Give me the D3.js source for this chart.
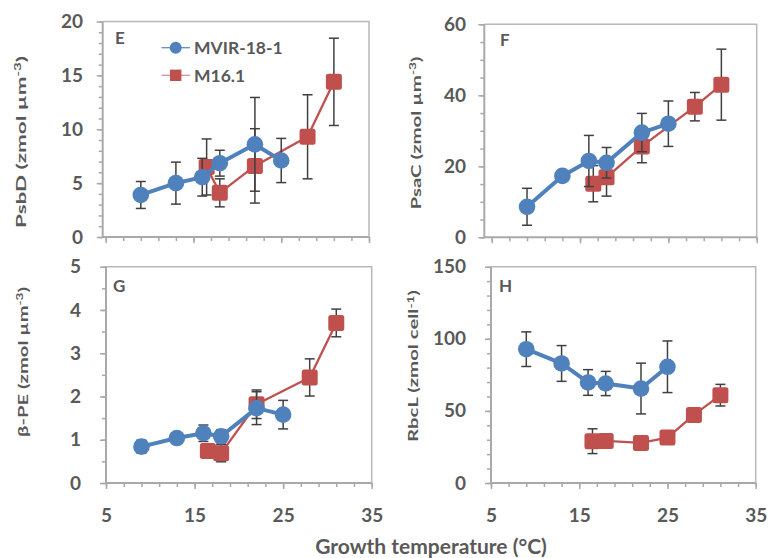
<!DOCTYPE html>
<html>
<head>
<meta charset="utf-8">
<script src="https://cdn.jsdelivr.net/npm/d3@7"></script>
<style>
  body { margin: 0; background: #fff; }
  svg { display: block; }
  text { font-family: Lato, "Open Sans", sans-serif; font-weight: bold; fill: #595959; }
</style>
</head>
<body>
<svg id="chart" width="770" height="558"></svg>
<script>
// growth temperatures (°C)
const tempBlue = [9, 13, 16, 18, 22, 25];
const tempRed = [16.5, 18, 22, 28, 31];
const tempRedH = [16.5, 18, 22, 25, 28, 31];

// E: PsbD (zmol µm-3)
const psbdBlue = [3.9, 5.0, 5.55, 6.85, 8.6, 7.1];
const psbdBlueErr = [1.25, 1.95, 1.75, 1.2, 4.35, 2.05];
const psbdRed = [6.5, 4.1, 6.6, 9.3, 14.4];
const psbdRedErr = [2.6, 1.3, 3.45, 3.9, 4.05];

// F: PsaC (zmol µm-3)
const psacBlue = [8.6, 17.3, 21.5, 21.0, 29.5, 32.0];
const psacBlueErr = [5.2, 1.0, 7.2, 4.3, 5.4, 6.4];
const psacRed = [15.1, 16.9, 25.6, 36.8, 43.0];
const psacRedErr = [5.1, 5.3, 4.6, 4.0, 10.0];

// G: beta-PE (zmol µm-3)
const bpeBlue = [0.84, 1.04, 1.15, 1.08, 1.73, 1.58];
const bpeBlueErr = [0.15, 0.1, 0.19, 0.15, 0.38, 0.33];
const bpeRed = [0.74, 0.69, 1.82, 2.44, 3.70];
const bpeRedErr = [0.1, 0.2, 0.33, 0.43, 0.32];

// H: RbcL (zmol cell-1)
const rbclBlue = [92.8, 82.9, 69.7, 69.0, 65.5, 80.6];
const rbclBlueErr = [12.0, 12.4, 8.9, 8.4, 17.6, 17.9];
const rbclRed = [29.0, 29.2, 27.8, 31.5, 47.2, 60.9];
const rbclRedErr = [8.6, 4.0, 2.0, 2.0, 3.0, 7.5];

const seriesNames = ["MVIR-18-1", "M16.1"];
const xTickLabels = [5, 15, 25, 35];

const blue = "#4f81bd";
const red = "#c0504d";
const axisGray = "#a9a9a9";
const errGray = "#404040";

const zip = (xs, ys, es) => xs.map((x, i) => ({ x: x, y: ys[i], e: es[i] }));

const panels = [
  { id: "E", title: ["PsbD (zmol µm", "-3", ")"], yMax: 20, yMajor: 5, yMinor: 1,
    left: 102.7, x5: 105.7, x35: 369, top: 21.5, bottom: 237, labelRight: 83,
    titleX: 21, titleY: 142, titleLen: 172, letterX: 115, letterY: 43.5, xLabels: false,
    blue: zip(tempBlue, psbdBlue, psbdBlueErr), red: zip(tempRed, psbdRed, psbdRedErr) },
  { id: "F", title: ["PsaC (zmol µm", "-3", ")"], yMax: 60, yMajor: 20, yMinor: 5,
    left: 484.3, x5: 491.7, x35: 756.7, top: 24.3, bottom: 237.3, labelRight: 466,
    titleX: 416, titleY: 133, titleLen: 153, letterX: 500, letterY: 45.5, xLabels: false,
    blue: zip(tempBlue, psacBlue, psacBlueErr), red: zip(tempRed, psacRed, psacRedErr) },
  { id: "G", title: ["β-PE (zmol µm", "-3", ")"], yMax: 5, yMajor: 1, yMinor: 0.5,
    left: 106, x5: 106, x35: 371.7, top: 266.7, bottom: 483, labelRight: 81,
    titleX: 23, titleY: 362, titleLen: 150, letterX: 113, letterY: 291.5, xLabels: true,
    blue: zip(tempBlue, bpeBlue, bpeBlueErr), red: zip(tempRed, bpeRed, bpeRedErr) },
  { id: "H", title: ["RbcL (zmol cell", "-1", ")"], yMax: 150, yMajor: 50, yMinor: 10,
    left: 491, x5: 491, x35: 755.7, top: 266.7, bottom: 483, labelRight: 466,
    titleX: 413.5, titleY: 366, titleLen: 152, letterX: 499, letterY: 291.5, xLabels: true,
    blue: zip(tempBlue, rbclBlue, rbclBlueErr), red: zip(tempRedH, rbclRed, rbclRedErr) }
];

const svg = d3.select("#chart");

function steps(max, step) {
  return d3.range(0, Math.round(max / step) + 1).map(i => i * step);
}

function styleAxis(g) {
  g.select(".domain").remove();
  g.selectAll(".tick line").attr("stroke", axisGray).attr("stroke-width", 1.5);
  g.selectAll(".tick text").attr("fill", "#595959").style("font-size", "19px");
}

panels.forEach(p => {
  const x = d3.scaleLinear().domain([5, 35]).range([p.x5, p.x35]);
  const y = d3.scaleLinear().domain([0, p.yMax]).range([p.bottom, p.top]);
  const g = svg.append("g");

  // plot frame
  g.append("path")
    .attr("d", `M${p.left},${p.top}H${p.x35}V${p.bottom}`)
    .attr("fill", "none").attr("stroke", "#b8b8b8").attr("stroke-width", 1.5);

  // y axis
  g.append("g").attr("transform", `translate(${p.left},0)`)
    .call(d3.axisLeft(y).tickValues(steps(p.yMax, p.yMinor)).tickSize(4).tickFormat(""))
    .call(styleAxis);
  g.append("g").attr("transform", `translate(${p.left},0)`)
    .call(d3.axisLeft(y).tickValues(steps(p.yMax, p.yMajor)).tickSize(6)
      .tickPadding(p.left - p.labelRight - 6).tickFormat(d3.format("d")))
    .call(styleAxis);

  // x axis
  g.append("g").attr("transform", `translate(0,${p.bottom})`)
    .call(d3.axisBottom(x).tickValues(d3.range(5, 36, 2)).tickSize(4).tickFormat(""))
    .call(styleAxis);
  g.append("g").attr("transform", `translate(0,${p.bottom})`)
    .call(d3.axisBottom(x).tickValues(xTickLabels).tickSize(6).tickPadding(20)
      .tickFormat(p.xLabels ? d3.format("d") : ""))
    .call(styleAxis);

  g.append("line")
    .attr("x1", p.left).attr("x2", p.left).attr("y1", p.top).attr("y2", p.bottom + 1)
    .attr("stroke", axisGray).attr("stroke-width", 2);
  g.append("line")
    .attr("x1", p.left).attr("x2", p.x35).attr("y1", p.bottom).attr("y2", p.bottom)
    .attr("stroke", axisGray).attr("stroke-width", 2);

  // y axis title (the source stretches it along its length)
  const t = g.append("text")
    .attr("text-anchor", "middle").attr("dy", "0.35em")
    .style("font-size", "13.5px");
  t.append("tspan").text(p.title[0]);
  t.append("tspan").attr("baseline-shift", "super").style("font-size", "9px").text(p.title[1]);
  t.append("tspan").text(p.title[2]);
  const natural = t.node().getComputedTextLength() || p.titleLen;
  t.attr("transform", `translate(${p.titleX},${p.titleY}) rotate(-90) scale(${p.titleLen / natural},1)`);

  // panel letter
  g.append("text").attr("x", p.letterX).attr("y", p.letterY)
    .style("font-size", "17px").text(p.id);

  const line = d3.line().x(d => x(d.x)).y(d => y(d.y));

  function drawSeries(data, color, width, isCircle) {
    const s = g.append("g");
    s.append("path").datum(data).attr("d", line)
      .attr("fill", "none").attr("stroke", color).attr("stroke-width", width)
      .attr("stroke-linejoin", "round");
    const eb = s.selectAll(".eb").data(data).join("g").attr("class", "eb")
      .attr("stroke", errGray).attr("stroke-width", 1.5);
    eb.append("line").attr("x1", d => x(d.x)).attr("x2", d => x(d.x))
      .attr("y1", d => y(d.y - d.e)).attr("y2", d => y(d.y + d.e));
    eb.append("line").attr("x1", d => x(d.x) - 5).attr("x2", d => x(d.x) + 5)
      .attr("y1", d => y(d.y - d.e)).attr("y2", d => y(d.y - d.e));
    eb.append("line").attr("x1", d => x(d.x) - 5).attr("x2", d => x(d.x) + 5)
      .attr("y1", d => y(d.y + d.e)).attr("y2", d => y(d.y + d.e));
    if (isCircle) {
      s.selectAll("circle").data(data).join("circle")
        .attr("cx", d => x(d.x)).attr("cy", d => y(d.y)).attr("r", 8.3)
        .attr("fill", color);
    } else {
      s.selectAll("rect").data(data).join("rect")
        .attr("x", d => x(d.x) - 8).attr("y", d => y(d.y) - 8)
        .attr("width", 16).attr("height", 16).attr("rx", 2.5)
        .attr("fill", color);
    }
  }

  drawSeries(p.red, red, 2.3, false);
  drawSeries(p.blue, blue, 4, true);
});

// legend in panel E
const legend = svg.append("g");
[0, 1].forEach(i => {
  const cy = i === 0 ? 47.7 : 75.3;
  const color = i === 0 ? blue : red;
  legend.append("line").attr("x1", 161.5).attr("x2", 190).attr("y1", cy).attr("y2", cy)
    .attr("stroke", color).attr("stroke-width", 1.3).attr("opacity", i === 0 ? 0.9 : 0.6);
  if (i === 0) {
    legend.append("circle").attr("cx", 175.7).attr("cy", cy).attr("r", 6).attr("fill", color);
  } else {
    legend.append("rect").attr("x", 170).attr("y", cy - 5.7).attr("width", 11.4).attr("height", 11.4)
      .attr("fill", color);
  }
  legend.append("text").attr("x", 194).attr("y", cy).attr("dy", "0.36em")
    .style("font-size", "17.5px").text(seriesNames[i]);
});

// shared x axis title
svg.append("text").attr("x", 431).attr("y", 554).attr("text-anchor", "middle")
  .style("font-size", "21px").text("Growth temperature (°C)");
</script>
</body>
</html>
